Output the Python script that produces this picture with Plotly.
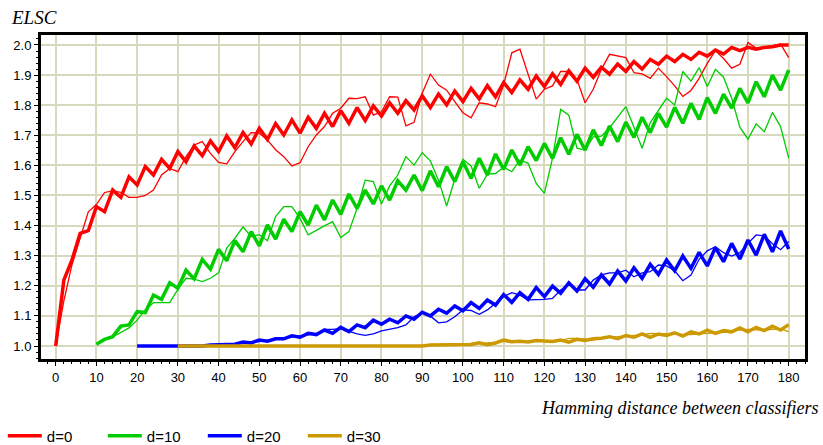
import plotly.graph_objects as go

# ---------------- data ----------------
x_d0 = list(range(0, 181, 2))
x_d10 = list(range(10, 181, 2))
x_d20 = list(range(20, 181, 2))
x_d30 = list(range(30, 181, 2))

d0_thick = [1.000, 1.219, 1.286, 1.374, 1.383, 1.463, 1.446, 1.518, 1.494, 1.562,
            1.535, 1.596, 1.568, 1.620, 1.590, 1.646, 1.612, 1.665, 1.632, 1.681,
            1.646, 1.698, 1.659, 1.709, 1.671, 1.723, 1.686, 1.739, 1.701, 1.751,
            1.707, 1.760, 1.723, 1.773, 1.729, 1.782, 1.740, 1.792, 1.749, 1.798,
            1.764, 1.808, 1.773, 1.815, 1.784, 1.831, 1.792, 1.837, 1.801, 1.847,
            1.812, 1.856, 1.821, 1.865, 1.828, 1.875, 1.842, 1.884, 1.853, 1.897,
            1.862, 1.904, 1.869, 1.914, 1.880, 1.923, 1.893, 1.926, 1.903, 1.937,
            1.912, 1.945, 1.920, 1.952, 1.936, 1.963, 1.945, 1.969, 1.952, 1.976,
            1.963, 1.983, 1.970, 1.992, 1.981, 1.992, 1.986, 1.992, 1.994, 2.000, 2.000]
d0_thin = [1.000, 1.150, 1.270, 1.360, 1.446, 1.470, 1.510, 1.515, 1.510, 1.494,
           1.494, 1.500, 1.518, 1.568, 1.590, 1.579, 1.629, 1.668, 1.679, 1.640,
           1.610, 1.605, 1.646, 1.679, 1.709, 1.707, 1.684, 1.652, 1.629, 1.598,
           1.609, 1.662, 1.701, 1.729, 1.773, 1.790, 1.823, 1.822, 1.828, 1.767,
           1.778, 1.828, 1.827, 1.731, 1.743, 1.840, 1.903, 1.867, 1.850, 1.812,
           1.775, 1.758, 1.808, 1.804, 1.795, 1.867, 1.974, 1.986, 1.906, 1.820,
           1.853, 1.864, 1.912, 1.912, 1.885, 1.808, 1.853, 1.919, 1.969, 1.963,
           1.958, 1.908, 1.904, 1.889, 1.923, 1.895, 1.864, 1.829, 1.849, 1.889,
           1.939, 1.981, 1.955, 1.923, 1.936, 2.008, 1.990, 1.994, 1.997, 2.003, 1.958]

d10_thick = [1.006, 1.022, 1.031, 1.066, 1.070, 1.114, 1.111, 1.169, 1.155, 1.210,
             1.192, 1.252, 1.223, 1.288, 1.255, 1.321, 1.283, 1.350, 1.313, 1.380,
             1.333, 1.402, 1.355, 1.421, 1.380, 1.446, 1.402, 1.468, 1.419, 1.485,
             1.437, 1.505, 1.457, 1.518, 1.472, 1.532, 1.485, 1.549, 1.518, 1.568,
             1.516, 1.582, 1.529, 1.596, 1.546, 1.612, 1.557, 1.624, 1.568, 1.638,
             1.587, 1.651, 1.601, 1.662, 1.616, 1.673, 1.623, 1.692, 1.637, 1.703,
             1.651, 1.718, 1.666, 1.731, 1.679, 1.744, 1.693, 1.760, 1.709, 1.773,
             1.727, 1.793, 1.740, 1.806, 1.753, 1.825, 1.773, 1.837, 1.790, 1.856,
             1.808, 1.878, 1.828, 1.900, 1.850, 1.917]
d10_thin = [1.006, 1.020, 1.030, 1.044, 1.060, 1.086, 1.120, 1.144, 1.144, 1.144,
            1.188, 1.225, 1.222, 1.214, 1.225, 1.243, 1.325, 1.358, 1.396, 1.363,
            1.370, 1.350, 1.430, 1.463, 1.463, 1.424, 1.369, 1.385, 1.399, 1.413,
            1.360, 1.380, 1.457, 1.551, 1.546, 1.472, 1.532, 1.568, 1.629, 1.601,
            1.642, 1.615, 1.551, 1.465, 1.554, 1.620, 1.598, 1.524, 1.571, 1.573,
            1.594, 1.579, 1.618, 1.607, 1.540, 1.507, 1.624, 1.786, 1.767, 1.657,
            1.651, 1.695, 1.697, 1.725, 1.762, 1.795, 1.727, 1.657, 1.742, 1.784,
            1.823, 1.801, 1.912, 1.880, 1.925, 1.862, 1.919, 1.893, 1.823, 1.727,
            1.687, 1.738, 1.712, 1.776, 1.729, 1.624]

d20_thick = [1.000, 1.000, 1.000, 1.000, 1.000, 1.000, 1.000, 1.000, 1.000, 1.003,
             1.005, 1.005, 1.006, 1.013, 1.010, 1.020, 1.016, 1.024, 1.024, 1.034,
             1.029, 1.042, 1.038, 1.053, 1.042, 1.062, 1.048, 1.070, 1.061, 1.086,
             1.072, 1.089, 1.077, 1.100, 1.089, 1.112, 1.100, 1.122, 1.109, 1.133,
             1.117, 1.144, 1.125, 1.153, 1.136, 1.171, 1.145, 1.177, 1.155, 1.194,
             1.164, 1.199, 1.175, 1.210, 1.183, 1.223, 1.195, 1.236, 1.206, 1.249,
             1.216, 1.260, 1.225, 1.271, 1.238, 1.286, 1.250, 1.299, 1.258, 1.311,
             1.266, 1.327, 1.280, 1.341, 1.289, 1.352, 1.302, 1.371, 1.313, 1.382, 1.322]
d20_thin = [1.000, 1.000, 1.000, 1.000, 1.000, 1.000, 1.000, 1.000, 1.000, 1.003,
            1.005, 1.005, 1.006, 1.008, 1.012, 1.015, 1.018, 1.022, 1.026, 1.030,
            1.033, 1.037, 1.040, 1.055, 1.055, 1.058, 1.048, 1.040, 1.035, 1.040,
            1.050, 1.055, 1.061, 1.070, 1.097, 1.110, 1.100, 1.077, 1.080, 1.097,
            1.120, 1.118, 1.105, 1.120, 1.142, 1.164, 1.177, 1.169, 1.153, 1.153,
            1.155, 1.158, 1.186, 1.206, 1.186, 1.186, 1.219, 1.236, 1.243, 1.243,
            1.252, 1.230, 1.243, 1.247, 1.269, 1.266, 1.250, 1.217, 1.236, 1.288,
            1.316, 1.330, 1.310, 1.299, 1.310, 1.341, 1.369, 1.366, 1.340, 1.320, 1.347]

d30_thick = [1.000, 1.000, 1.000, 1.000, 1.000, 1.000, 1.000, 1.000, 1.000, 1.000,
             1.000, 1.000, 1.000, 1.000, 1.000, 1.000, 1.000, 1.000, 1.000, 1.000,
             1.000, 1.000, 1.000, 1.000, 1.000, 1.000, 1.000, 1.000, 1.000, 1.000,
             1.000, 1.003, 1.003, 1.004, 1.004, 1.005, 1.005, 1.011, 1.004, 1.010,
             1.020, 1.014, 1.016, 1.013, 1.018, 1.017, 1.015, 1.020, 1.013, 1.022,
             1.018, 1.024, 1.026, 1.031, 1.024, 1.035, 1.029, 1.040, 1.029, 1.040,
             1.035, 1.044, 1.033, 1.047, 1.040, 1.053, 1.042, 1.051, 1.047, 1.060,
             1.047, 1.062, 1.051, 1.066, 1.053, 1.071]
d30_thin = [1.000, 1.000, 1.000, 1.000, 1.000, 1.000, 1.000, 1.000, 1.000, 1.000,
            1.000, 1.000, 1.000, 1.000, 1.000, 1.000, 1.000, 1.000, 1.000, 1.000,
            1.000, 1.000, 1.000, 1.000, 1.000, 1.000, 1.000, 1.000, 1.000, 1.000,
            1.002, 1.003, 1.004, 1.004, 1.005, 1.005, 1.006, 1.008, 1.010, 1.012,
            1.015, 1.014, 1.014, 1.016, 1.016, 1.015, 1.016, 1.018, 1.025, 1.025,
            1.022, 1.020, 1.025, 1.030, 1.031, 1.033, 1.035, 1.037, 1.042, 1.041,
            1.042, 1.041, 1.040, 1.038, 1.040, 1.042, 1.043, 1.045, 1.050, 1.052,
            1.055, 1.054, 1.053, 1.055, 1.057, 1.048]

series_names = ["d=0", "d=10", "d=20", "d=30"]
series_colors = ["#ff0000", "#00cc00", "#0000ff", "#cc9900"]
x_tick_vals = list(range(0, 181, 10))
y_tick_vals = [1.0, 1.1, 1.2, 1.3, 1.4, 1.5, 1.6, 1.7, 1.8, 1.9, 2.0]

series = [
    (x_d0, d0_thick, d0_thin),
    (x_d10, d10_thick, d10_thin),
    (x_d20, d20_thick, d20_thin),
    (x_d30, d30_thick, d30_thin),
]

fig = go.Figure()
for (xs, thick, thin), name, col in zip(series, series_names, series_colors):
    fig.add_trace(go.Scatter(x=xs, y=thin, mode="lines", name=name,
                             line=dict(color=col, width=1.3),
                             showlegend=False, hoverinfo="skip"))
    fig.add_trace(go.Scatter(x=xs, y=thick, mode="lines", name=name,
                             line=dict(color=col, width=3.5), showlegend=True))

grid_col = "#d8d8bc"
tick_font = dict(family="Liberation Sans, Arial, sans-serif", size=13, color="black")

fig.update_layout(
    width=823, height=445,
    margin=dict(l=41, r=18, t=35, b=86, autoexpand=False),
    paper_bgcolor="white", plot_bgcolor="white",
    showlegend=True,
    legend=dict(orientation="h", x=-0.050, xanchor="left", y=-0.238, yanchor="middle",
                entrywidth=51, entrywidthmode="pixels",
                font=dict(family="Liberation Sans, Arial, sans-serif", size=15, color="black"),
                bgcolor="rgba(0,0,0,0)", borderwidth=0, itemwidth=34),
    xaxis=dict(range=[-3.61, 184.0], tickmode="array", tickvals=x_tick_vals,
               showgrid=True, gridcolor=grid_col, gridwidth=2,
               showline=True, linecolor="black", linewidth=3, mirror=True,
               ticks="outside", ticklen=4, tickwidth=1, tickcolor="black",
               minor=dict(dtick=2, tick0=0, ticks="outside", ticklen=2, tickcolor="black",
                          showgrid=False),
               zeroline=False, tickfont=tick_font),
    yaxis=dict(range=[0.9568, 2.0332], tickmode="array", tickvals=y_tick_vals,
               tickformat=".1f",
               showgrid=True, gridcolor=grid_col, gridwidth=2,
               showline=True, linecolor="black", linewidth=3, mirror=True,
               ticks="outside", ticklen=4, tickwidth=1, tickcolor="black",
               minor=dict(dtick=0.02, tick0=1.0, ticks="outside", ticklen=2, tickcolor="black",
                          showgrid=False),
               zeroline=False, tickfont=tick_font),
    annotations=[
        dict(text="ELSC", xref="paper", yref="paper", x=-0.0425, y=1.055,
             xanchor="left", yanchor="middle", showarrow=False,
             font=dict(family="Liberation Serif, Times New Roman, serif", size=19,
                       color="black", style="italic")),
        dict(text="Hamming distance between classifiers", xref="paper", yref="paper",
             x=1.0196, y=-0.151, xanchor="right", yanchor="middle", showarrow=False,
             font=dict(family="Liberation Serif, Times New Roman, serif", size=18,
                       color="black", style="italic")),
    ],
)

fig.write_html("out.html",
               config={"displayModeBar": False},
               post_script="document.body.style.margin='0';document.body.style.padding='0';")
